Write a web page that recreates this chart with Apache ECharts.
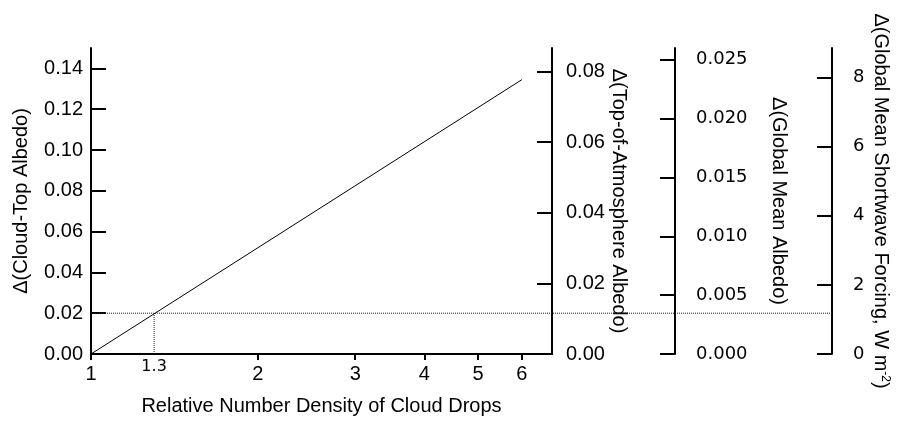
<!DOCTYPE html>
<html>
<head>
<meta charset="utf-8">
<script src="https://cdn.jsdelivr.net/npm/echarts@6/dist/echarts.min.js"></script>
<style>
  html, body { margin: 0; padding: 0; background: #fff; }
  #chart { width: 897px; height: 422px; }
</style>
</head>
<body>
<div id="chart"></div>
<script>
// Relative number density of cloud drops (log axis)
const densityRange = [1, 6.8];
const densityTicks = [1, 2, 3, 4, 5, 6];
const markedDensity = [1.3];

// Albedo response: endpoints (density, Δ cloud-top albedo)
const lineDensity = [1, 6];
const lineAlbedo = [0, 0.1345];

// Δ cloud-top albedo reached at the marked density
const markedAlbedo = 0.02;

// Left axis: Δ cloud-top albedo
const cloudTopRange = [0, 0.15];
const cloudTopTicks = [0, 0.02, 0.04, 0.06, 0.08, 0.10, 0.12, 0.14];

// Right axes: top-of-atmosphere albedo, global mean albedo, shortwave forcing
const toaRange = [0, 0.0867];
const toaTicks = [0, 0.02, 0.04, 0.06, 0.08];
const globalRange = [0, 0.026];
const globalTicks = [0, 0.005, 0.010, 0.015, 0.020, 0.025];
const forcingRange = [0, 8.85];
const forcingTicks = [0, 2, 4, 6, 8];

const SANS = '"Liberation Sans", Arial, Helvetica, sans-serif';
const WIDE = '"DejaVu Sans", sans-serif';
const INK = '#000';
const FS = 20;

function yAxisBase(range, ticks, extra) {
  return Object.assign({
    type: 'value',
    gridIndex: 0,
    min: range[0],
    max: range[1],
    splitLine: { show: false },
    axisLine: { show: true, onZero: false, lineStyle: { color: INK, width: 2 } },
    axisTick: { show: true, inside: true, length: 15, customValues: ticks, lineStyle: { color: INK, width: 2 } },
    nameLocation: 'middle',
    nameMoveOverlap: false,
    nameTextStyle: { color: INK, fontFamily: SANS, fontSize: FS }
  }, extra);
}

const chart = echarts.init(document.getElementById('chart'), null, { renderer: 'canvas' });

const option = {
  animation: false,
  backgroundColor: '#fff',
  grid: [
    { left: 91, right: 345, top: 48, bottom: 68, outerBoundsMode: 'none', containLabel: false },
    { left: 91, right: 65, top: 48, bottom: 68, outerBoundsMode: 'none', containLabel: false }
  ],
  xAxis: [
    {
      type: 'log',
      gridIndex: 0,
      position: 'bottom',
      min: densityRange[0],
      max: densityRange[1],
      splitLine: { show: false },
      axisLine: { show: true, onZero: false, lineStyle: { color: INK, width: 2 } },
      axisTick: { show: true, length: 6, customValues: densityTicks, lineStyle: { color: INK, width: 2 } },
      axisLabel: { customValues: densityTicks, formatter: v => String(v), color: INK, fontFamily: SANS, fontSize: FS, margin: 10 },
      name: 'Relative Number Density of Cloud Drops',
      nameLocation: 'middle',
      nameGap: 42,
      nameMoveOverlap: false,
      nameTextStyle: { color: INK, fontFamily: SANS, fontSize: FS }
    },
    {
      type: 'log',
      gridIndex: 0,
      position: 'bottom',
      min: densityRange[0],
      max: densityRange[1],
      splitLine: { show: false },
      axisLine: { show: false },
      axisTick: { show: false },
      axisLabel: { customValues: markedDensity, formatter: v => String(v), color: INK, fontFamily: WIDE, fontSize: 16, margin: 5 }
    },
    {
      type: 'value',
      gridIndex: 1,
      min: 0,
      max: 1,
      show: false
    }
  ],
  yAxis: [
    yAxisBase(cloudTopRange, cloudTopTicks, {
      position: 'left',
      axisLabel: { customValues: cloudTopTicks, formatter: v => v.toFixed(2), color: INK, fontFamily: SANS, fontSize: FS, margin: 8 },
      name: 'Δ(Cloud-Top Albedo)',
      nameGap: 60,
      nameRotate: 90
    }),
    yAxisBase(toaRange, toaTicks, {
      position: 'right',
      offset: 0,
      axisLabel: { customValues: toaTicks, formatter: v => v.toFixed(2), color: INK, fontFamily: SANS, fontSize: FS, margin: 14 },
      name: 'Δ(Top-of-Atmosphere Albedo)',
      nameGap: 57,
      nameRotate: -90
    }),
    yAxisBase(globalRange, globalTicks, {
      position: 'right',
      offset: 123,
      axisLabel: { customValues: globalTicks, formatter: v => v.toFixed(3), color: INK, fontFamily: WIDE, fontSize: 18, margin: 21 },
      name: 'Δ(Global Mean Albedo)',
      nameGap: 94,
      nameRotate: -90
    }),
    yAxisBase(forcingRange, forcingTicks, {
      position: 'right',
      offset: 280,
      axisLabel: { customValues: forcingTicks, formatter: v => String(v), color: INK, fontFamily: WIDE, fontSize: 18, margin: 21 },
      name: 'Δ(Global Mean Shortwave Forcing, W m{sup|-2})',
      nameGap: 39,
      nameRotate: -90,
      nameTextStyle: {
        color: INK, fontFamily: SANS, fontSize: FS,
        rich: { sup: { fontFamily: SANS, fontSize: 12, color: INK, verticalAlign: 'top' } }
      }
    }),
    {
      type: 'value',
      gridIndex: 1,
      min: cloudTopRange[0],
      max: cloudTopRange[1],
      show: false
    }
  ],
  series: [
    {
      type: 'line',
      xAxisIndex: 0,
      yAxisIndex: 0,
      data: lineDensity.map((n, i) => [n, lineAlbedo[i]]),
      symbol: 'none',
      silent: true,
      lineStyle: { color: INK, width: 1 }
    },
    {
      type: 'line',
      xAxisIndex: 0,
      yAxisIndex: 0,
      data: [[markedDensity[0], 0], [markedDensity[0], markedAlbedo]],
      symbol: 'none',
      silent: true,
      lineStyle: { color: '#222', width: 1, type: 'dotted' }
    },
    {
      type: 'line',
      xAxisIndex: 2,
      yAxisIndex: 4,
      data: [[0, markedAlbedo], [1, markedAlbedo]],
      symbol: 'none',
      silent: true,
      clip: false,
      lineStyle: { color: '#222', width: 1, type: 'dotted' }
    }
  ]
};

chart.setOption(option);
</script>
</body>
</html>
